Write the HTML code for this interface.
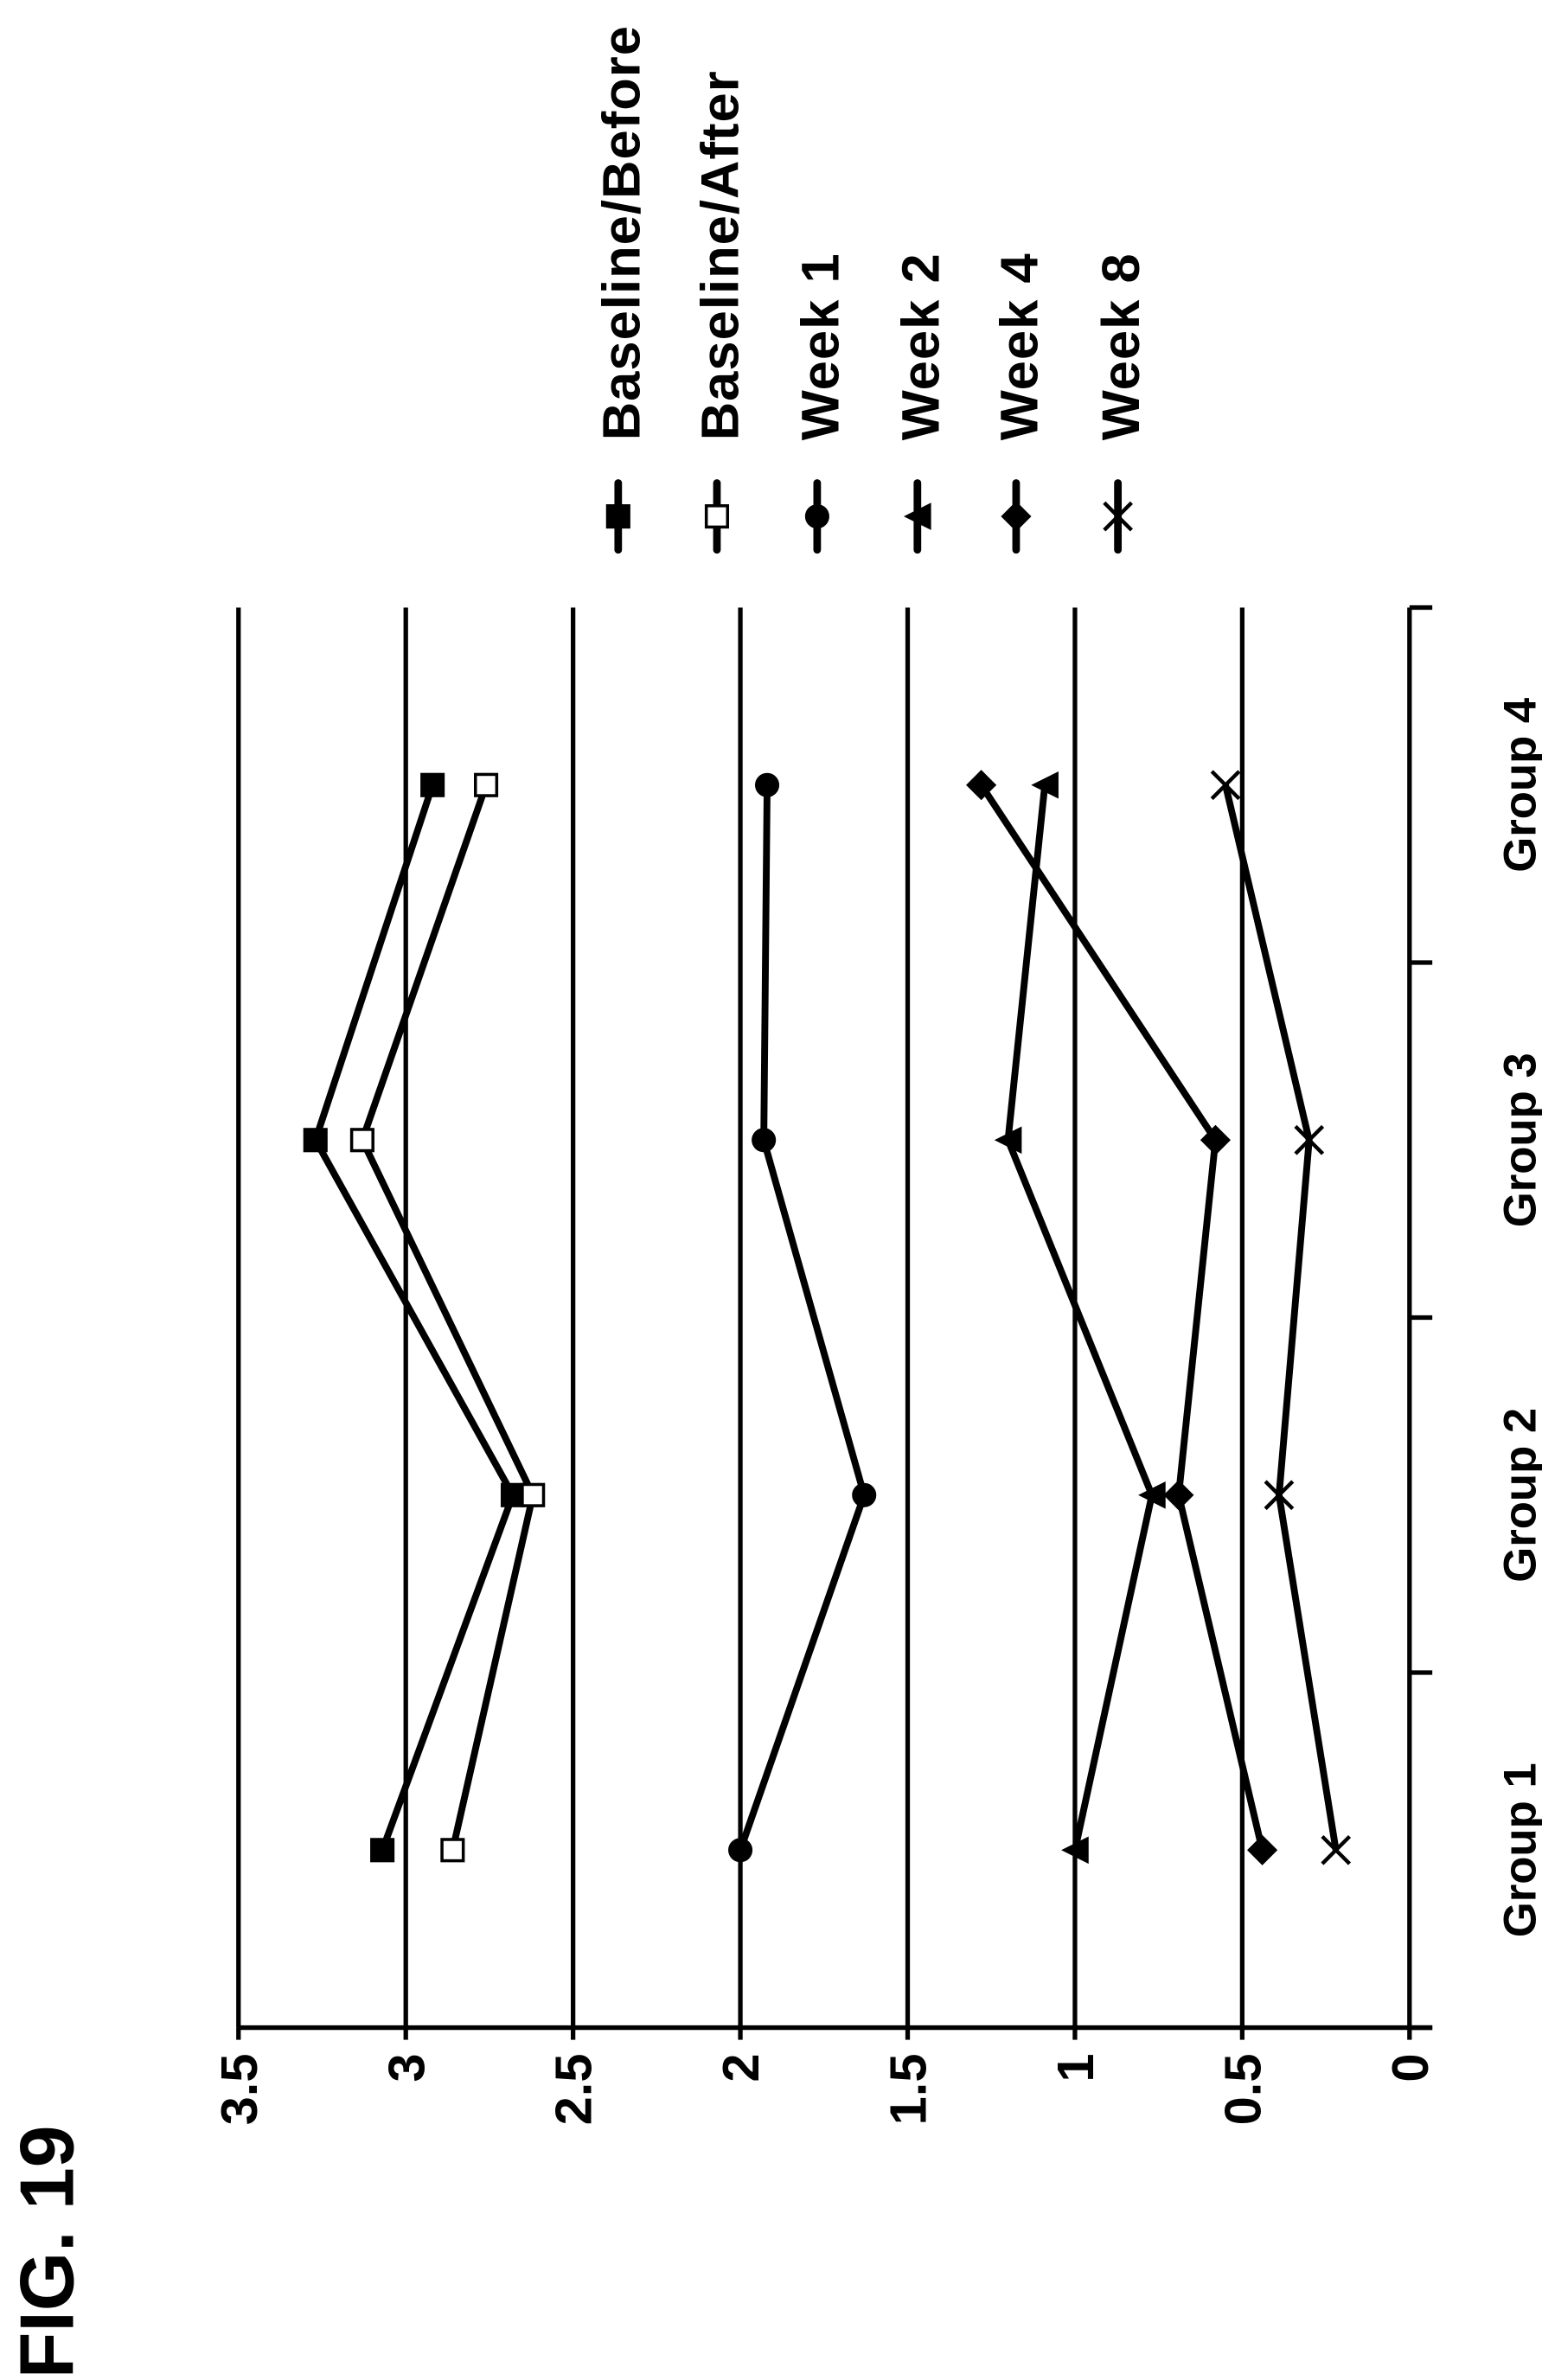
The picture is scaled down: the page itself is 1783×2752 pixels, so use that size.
<!DOCTYPE html>
<html><head><meta charset="utf-8"><style>
html,body{margin:0;padding:0;background:#fff;}
svg{display:block;}
text{font-family:"Liberation Sans",sans-serif;font-weight:bold;fill:#000;}
</style></head><body>
<svg id="chart" width="1783" height="2752" viewBox="0 0 1015.2 1567" xmlns="http://www.w3.org/2000/svg">
<g id="grid"></g>
<g id="axes"></g>
<g id="series"></g>
<g id="legend"></g>
<text transform="translate(48,1566) rotate(-90)" font-size="50">FIG. 19</text>
</svg>
<script>
const categories = ["Group 1","Group 2","Group 3","Group 4"];
const seriesNames = ["Baseline/Before","Baseline/After","Week 1","Week 2","Week 4","Week 8"];
const baselineBefore = [3.07,2.68,3.27,2.92];
const baselineAfter = [2.86,2.62,3.13,2.76];
const week1 = [2.0,1.63,1.93,1.92];
const week2 = [1.0,0.77,1.2,1.09];
const week4 = [0.44,0.69,0.58,1.28];
const week8 = [0.22,0.39,0.30,0.55];
const yTicks = [0,0.5,1,1.5,2,2.5,3,3.5];
const yTickLabels = ["0","0.5","1","1.5","2","2.5","3","3.5"];
const markers = ["square","open-square","circle","triangle","diamond","x"];

const NS="http://www.w3.org/2000/svg";
const X0=928, X1=157, VMAX=3.5;
function vx(v){return X0-(X0-X1)*v/VMAX;}
const YTOP=400, YBOT=1335;
function cy(i){const step=(YBOT-YTOP)/categories.length;return YBOT-step*(i+0.5);}
function mk(tag,attrs,parent){const e=document.createElementNS(NS,tag);for(const k in attrs)e.setAttribute(k,attrs[k]);parent.appendChild(e);return e;}
const grid=document.getElementById('grid'),axes=document.getElementById('axes'),ser=document.getElementById('series'),leg=document.getElementById('legend');

yTicks.forEach((t,i)=>{
  const x=vx(t);
  if(t>0){const l=mk('line',{x1:x,y1:YTOP,x2:x,y2:YBOT,stroke:'#000','stroke-width':3},grid);
    
    }
  const tx=mk('text',{transform:`translate(${x+12},1352) rotate(-90)`,'font-size':34,'text-anchor':'end'},axes);
  tx.textContent=yTickLabels[i];
  
  
});
const ax=mk('line',{x1:X0,y1:YTOP,x2:X0,y2:YBOT,stroke:'#000','stroke-width':3},axes);


const vax=mk('line',{x1:X1,y1:YBOT,x2:X0+15,y2:YBOT,stroke:'#000','stroke-width':3},axes);


yTicks.forEach(t=>{const x=vx(t);mk('line',{x1:x,y1:YBOT,x2:x,y2:YBOT+8,stroke:'#000','stroke-width':3},axes);});
for(let i=0;i<=categories.length;i++){
  const y=YBOT-(YBOT-YTOP)*i/categories.length;
  mk('line',{x1:X0,y1:y,x2:X0+15,y2:y,stroke:'#000','stroke-width':3},axes);
}
categories.forEach((c,i)=>{
  const t=mk('text',{transform:`translate(1011,${cy(i)}) rotate(-90)`,'font-size':30,'text-anchor':'middle'},axes);
  t.textContent=c;
  
  
});

function marker(type,x,y,parent){
  const s=8;let e;
  if(type==='square')e=mk('rect',{x:x-s,y:y-s,width:2*s,height:2*s,fill:'#000'},parent);
  else if(type==='open-square')e=mk('rect',{x:x-s+1,y:y-s+1,width:2*s-2,height:2*s-2,fill:'#fff',stroke:'#000','stroke-width':2},parent);
  else if(type==='circle')e=mk('circle',{cx:x,cy:y,r:8,fill:'#000'},parent);
  else if(type==='triangle')e=mk('polygon',{points:`${x-9},${y} ${x+9},${y-9} ${x+9},${y+9}`,fill:'#000'},parent);
  else if(type==='diamond')e=mk('polygon',{points:`${x-10},${y} ${x},${y-10} ${x+10},${y} ${x},${y+10}`,fill:'#000'},parent);
  else {e=mk('path',{d:`M${x-9},${y-9}L${x+9},${y+9}M${x-9},${y+9}L${x+9},${y-9}`,stroke:'#000','stroke-width':2.5,fill:'none'},parent);}
  return e;
}
const allSeries=[baselineBefore,baselineAfter,week1,week2,week4,week8];
allSeries.forEach((vals,si)=>{
  const g=mk('g',{},ser);
  
  
  const pts=vals.map((v,i)=>vx(v)+','+cy(i)).join(' ');
  const pl=mk('polyline',{points:pts,fill:'none',stroke:'#000','stroke-width':4.5,'stroke-linejoin':'round'},g);
  
  
  vals.forEach((v,i)=>{const m=marker(markers[si],vx(v),cy(i),g);
    
    });
});
const legX=[407,472,538,604,669,736];
seriesNames.forEach((n,i)=>{
  const g=mk('g',{},leg);
  
  
  mk('line',{x1:legX[i],y1:318,x2:legX[i],y2:362,stroke:'#000','stroke-width':5,'stroke-linecap':'round'},g);
  marker(markers[i],legX[i],340,g);
  const t=mk('text',{transform:`translate(${legX[i]+14},290) rotate(-90)`,'font-size':35,'letter-spacing':'0.6'},g);
  t.textContent=n;
});
</script>
</body></html>
